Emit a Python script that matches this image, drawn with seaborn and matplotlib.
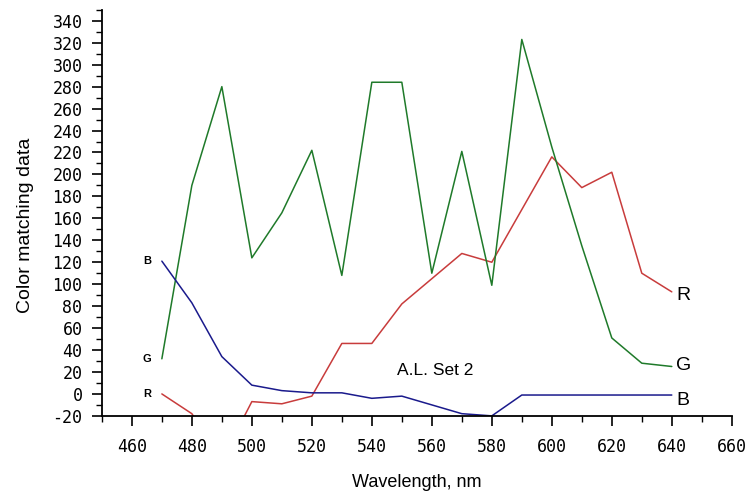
import numpy as np
import pandas as pd
import seaborn as sns
import matplotlib.pyplot as plt
from matplotlib.ticker import MultipleLocator

# Color matching data (A.L. Set 2)
wavelength = [470, 480, 490, 500, 510, 520, 530, 540, 550, 560,
              570, 580, 590, 600, 610, 620, 630, 640]
r_values = [0, -18, -60, -7, -9, -2, 46, 46, 82, 105,
            128, 120, 168, 216, 188, 202, 110, 93]
g_values = [32, 190, 280, 124, 165, 222, 108, 284, 284, 110,
            221, 99, 323, 225, 135, 51, 28, 25]
b_values = [121, 83, 34, 8, 3, 1, 1, -4, -2, -10,
            -18, -20, -1, -1, -1, -1, -1, -1]
series_names = ['R', 'G', 'B']

df = pd.DataFrame({
    'Wavelength': wavelength * 3,
    'Value': r_values + g_values + b_values,
    'Series': [s for s in series_names for _ in wavelength],
})

palette = {'R': '#c83c3c', 'G': '#1f7a2a', 'B': '#1a1a8c'}

sns.set_style('ticks')
plt.rcParams['font.family'] = ['Liberation Sans', 'DejaVu Sans']
plt.rcParams['axes.unicode_minus'] = False
plt.rcParams['text.color'] = 'black'

fig = plt.figure(figsize=(7.49, 4.91), dpi=100)
ax = fig.add_axes([0.136, 0.153, 0.841, 0.827])

sns.lineplot(data=df, x='Wavelength', y='Value', hue='Series',
             palette=palette, linewidth=1.1, legend=False, ax=ax)

ax.set_xlim(450, 660)
ax.set_ylim(-20, 350)
ax.set_xticks(np.arange(460, 661, 20))
ax.xaxis.set_minor_locator(MultipleLocator(10))
ax.set_yticks(np.arange(-20, 341, 20))
ax.yaxis.set_minor_locator(MultipleLocator(10))
ax.tick_params(axis='both', which='major', direction='out', length=7,
               width=1.2, color='black', labelcolor='black')
ax.tick_params(axis='y', which='major', pad=7)
ax.tick_params(axis='x', which='major', pad=9)
ax.tick_params(axis='both', which='minor', direction='out', length=4,
               width=1.0, color='black')
for lbl in ax.get_xticklabels() + ax.get_yticklabels():
    lbl.set_family('DejaVu Sans Mono')
    lbl.set_fontsize(12)

for side in ['top', 'right']:
    ax.spines[side].set_visible(False)
for side in ['left', 'bottom']:
    ax.spines[side].set_linewidth(1.3)
    ax.spines[side].set_color('black')

ax.set_xlabel('Wavelength, nm', fontsize=13, labelpad=13, color='black')
ax.set_ylabel('Color matching data', fontsize=14, labelpad=6, color='black')
ax.yaxis.set_label_coords(-0.108, 0.47)

# series labels at both ends
for name, vals in zip(series_names, [r_values, g_values, b_values]):
    ax.text(wavelength[0] - 5, vals[0], name, fontsize=8, fontweight='bold',
            ha='center', va='center', color='black')
ax.text(wavelength[-1] + 1.5, 90, 'R', fontsize=14, ha='left', va='center')
ax.text(wavelength[-1] + 1.5, 26, 'G', fontsize=14, ha='left', va='center')
ax.text(wavelength[-1] + 1.5, -6, 'B', fontsize=14, ha='left', va='center')

ax.text(561, 21, 'A.L. Set 2', fontsize=12.5, ha='center', va='center')

fig.savefig('out.png', dpi=100)
